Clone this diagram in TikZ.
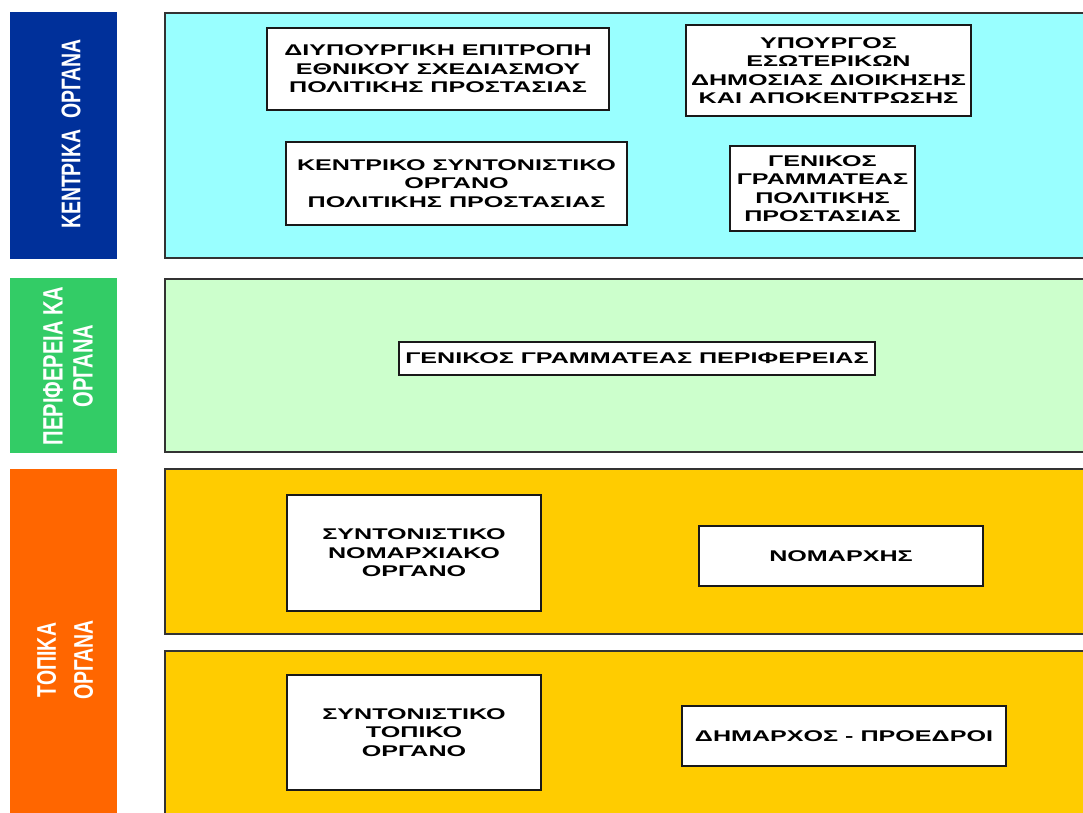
\documentclass[tikz,border=0pt]{standalone}
\usepackage{fontspec}
\setmainfont{Liberation Sans}
\newfontfamily\boxfont[FakeStretch=1.62]{Liberation Sans}
\newfontfamily\sidefont[FakeStretch=0.72]{Liberation Sans}
\definecolor{barblue}{HTML}{00309A}
\definecolor{bargreen}{HTML}{33CC66}
\definecolor{barorange}{HTML}{FF6600}
\definecolor{pancyan}{HTML}{99FFFF}
\definecolor{pangreen}{HTML}{CCFFCC}
\definecolor{panyellow}{HTML}{FFCC00}
\tikzset{
  panel/.style={draw=black!80, line width=1.3pt},
  orgbox/.style={draw=black!90, line width=1.3pt, fill=white, inner sep=0pt, align=center,
    font=\boxfont\bfseries\fontsize{15.5}{18.5}\selectfont},
  sidelabel/.style={rotate=90, text=white, inner sep=0pt, align=center}
}
\begin{document}
\begin{tikzpicture}[x=1pt,y=-1pt]
\useasboundingbox (0,0) rectangle (1083,812);
\clip (0,0) rectangle (1083,812);
\fill[white] (0,0) rectangle (1083,812);
% side bars
\fill[barblue] (10,12) rectangle (117,259);
\fill[bargreen] (10,278) rectangle (117,453);
\fill[barorange] (10,469) rectangle (117,830);
% panels
\filldraw[panel, fill=pancyan] (165,13) rectangle (1100,258);
\filldraw[panel, fill=pangreen] (165,279) rectangle (1100,452);
\filldraw[panel, fill=panyellow] (165,469) rectangle (1100,634);
\filldraw[panel, fill=panyellow] (165,651) rectangle (1100,830);
% side labels
\node[sidelabel, font=\sidefont\bfseries\fontsize{27}{30}\selectfont] (lblc) at (71,134) {ΚΕΝΤΡΙΚΑ~~ΟΡΓΑΝΑ};
\node[sidelabel, font=\sidefont\bfseries\fontsize{28}{30}\selectfont] (lblp) at (68,366) {ΠΕΡΙΦΕΡΕΙΑ ΚΑ\\ΟΡΓΑΝΑ};
\node[sidelabel, font=\sidefont\bfseries\fontsize{27}{37}\selectfont] (lblt) at (65,660) {ΤΟΠΙΚΑ\\ΟΡΓΑΝΑ};
% central organs
\node[orgbox, minimum width=342pt, minimum height=82pt] (diyp) at (438,69)
  {ΔΙΥΠΟΥΡΓΙΚΗ ΕΠΙΤΡΟΠΗ\\ΕΘΝΙΚΟΥ ΣΧΕΔΙΑΣΜΟΥ\\ΠΟΛΙΤΙΚΗΣ ΠΡΟΣΤΑΣΙΑΣ};
\node[orgbox, minimum width=341pt, minimum height=83pt] (kso) at (456.5,183.5)
  {ΚΕΝΤΡΙΚΟ ΣΥΝΤΟΝΙΣΤΙΚΟ\\ΟΡΓΑΝΟ\\ΠΟΛΙΤΙΚΗΣ ΠΡΟΣΤΑΣΙΑΣ};
\node[orgbox, minimum width=285pt, minimum height=91pt] (ypes) at (828.5,70.5)
  {ΥΠΟΥΡΓΟΣ\\ΕΣΩΤΕΡΙΚΩΝ\\ΔΗΜΟΣΙΑΣ ΔΙΟΙΚΗΣΗΣ\\ΚΑΙ ΑΠΟΚΕΝΤΡΩΣΗΣ};
\node[orgbox, minimum width=185pt, minimum height=85pt] (ggpp) at (822.5,188.5)
  {ΓΕΝΙΚΟΣ\\ΓΡΑΜΜΑΤΕΑΣ\\ΠΟΛΙΤΙΚΗΣ\\ΠΡΟΣΤΑΣΙΑΣ};
% regional
\node[orgbox, minimum width=476pt, minimum height=33pt] (ggper) at (637,358.5)
  {ΓΕΝΙΚΟΣ ΓΡΑΜΜΑΤΕΑΣ ΠΕΡΙΦΕΡΕΙΑΣ};
% local
\node[orgbox, minimum width=254pt, minimum height=116pt] (sno) at (414,553)
  {ΣΥΝΤΟΝΙΣΤΙΚΟ\\ΝΟΜΑΡΧΙΑΚΟ\\ΟΡΓΑΝΟ};
\node[orgbox, minimum width=284pt, minimum height=60pt] (nom) at (841,556)
  {ΝΟΜΑΡΧΗΣ};
\node[orgbox, minimum width=254pt, minimum height=115pt] (sto) at (414,732.5)
  {ΣΥΝΤΟΝΙΣΤΙΚΟ\\ΤΟΠΙΚΟ\\ΟΡΓΑΝΟ};
\node[orgbox, minimum width=324pt, minimum height=60pt] (dim) at (844,736)
  {ΔΗΜΑΡΧΟΣ - ΠΡΟΕΔΡΟΙ};
\end{tikzpicture}
\end{document}
